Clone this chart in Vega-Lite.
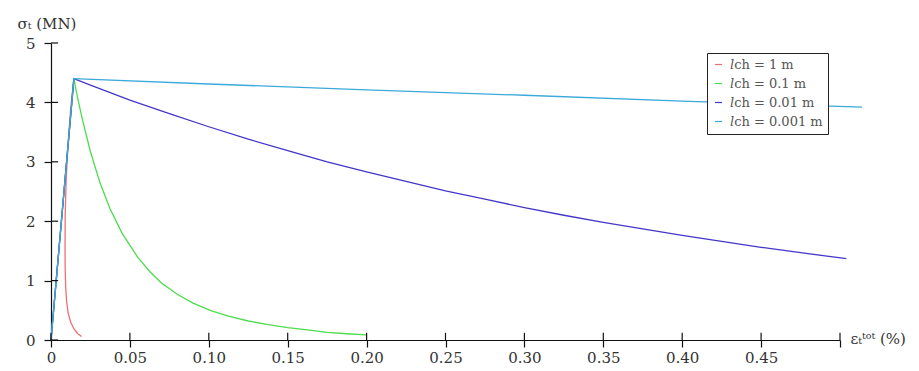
{
  "$schema": "https://vega.github.io/schema/vega-lite/v6.json",
  "autosize": "none",
  "width": 789,
  "height": 297,
  "padding": {"left": 51, "top": 43, "right": 79, "bottom": 31},
  "background": "white",
  "config": {
    "view": {"stroke": null},
    "font": "DejaVu Serif",
    "axis": {
      "grid": false,
      "domainColor": "#111",
      "domainWidth": 1.2,
      "tickColor": "#111",
      "tickWidth": 1.2,
      "tickSize": 7,
      "labelFont": "DejaVu Serif",
      "labelFontSize": 15,
      "labelColor": "#333",
      "titleFont": "DejaVu Serif",
      "titleFontSize": 15,
      "titleFontWeight": "normal",
      "titleColor": "#333"
    }
  },
  "datasets": {
    "curves": [
      {"s": "𝑙ch = 1 m", "k": 0, "e": 0, "sig": 0},
      {"s": "𝑙ch = 1 m", "k": 1, "e": 0.0145, "sig": 4.4},
      {"s": "𝑙ch = 1 m", "k": 2, "e": 0.0125, "sig": 3.9},
      {"s": "𝑙ch = 1 m", "k": 3, "e": 0.0108, "sig": 3.3},
      {"s": "𝑙ch = 1 m", "k": 4, "e": 0.0096, "sig": 2.7},
      {"s": "𝑙ch = 1 m", "k": 5, "e": 0.009, "sig": 2.1},
      {"s": "𝑙ch = 1 m", "k": 6, "e": 0.0089, "sig": 1.5},
      {"s": "𝑙ch = 1 m", "k": 7, "e": 0.009, "sig": 1.2},
      {"s": "𝑙ch = 1 m", "k": 8, "e": 0.0093, "sig": 0.9},
      {"s": "𝑙ch = 1 m", "k": 9, "e": 0.0099, "sig": 0.65},
      {"s": "𝑙ch = 1 m", "k": 10, "e": 0.0109, "sig": 0.45},
      {"s": "𝑙ch = 1 m", "k": 11, "e": 0.0125, "sig": 0.3},
      {"s": "𝑙ch = 1 m", "k": 12, "e": 0.0145, "sig": 0.19},
      {"s": "𝑙ch = 1 m", "k": 13, "e": 0.0168, "sig": 0.11},
      {"s": "𝑙ch = 1 m", "k": 14, "e": 0.0194, "sig": 0.06},
      {"s": "𝑙ch = 0.1 m", "k": 0, "e": 0, "sig": 0},
      {"s": "𝑙ch = 0.1 m", "k": 1, "e": 0.0145, "sig": 4.4},
      {"s": "𝑙ch = 0.1 m", "k": 2, "e": 0.017, "sig": 4.06},
      {"s": "𝑙ch = 0.1 m", "k": 3, "e": 0.02, "sig": 3.7},
      {"s": "𝑙ch = 0.1 m", "k": 4, "e": 0.025, "sig": 3.17},
      {"s": "𝑙ch = 0.1 m", "k": 5, "e": 0.031, "sig": 2.65},
      {"s": "𝑙ch = 0.1 m", "k": 6, "e": 0.0374, "sig": 2.21},
      {"s": "𝑙ch = 0.1 m", "k": 7, "e": 0.045, "sig": 1.8},
      {"s": "𝑙ch = 0.1 m", "k": 8, "e": 0.055, "sig": 1.39},
      {"s": "𝑙ch = 0.1 m", "k": 9, "e": 0.0627, "sig": 1.15},
      {"s": "𝑙ch = 0.1 m", "k": 10, "e": 0.07, "sig": 0.96},
      {"s": "𝑙ch = 0.1 m", "k": 11, "e": 0.08, "sig": 0.77},
      {"s": "𝑙ch = 0.1 m", "k": 12, "e": 0.09, "sig": 0.62},
      {"s": "𝑙ch = 0.1 m", "k": 13, "e": 0.1008, "sig": 0.5},
      {"s": "𝑙ch = 0.1 m", "k": 14, "e": 0.1125, "sig": 0.4},
      {"s": "𝑙ch = 0.1 m", "k": 15, "e": 0.125, "sig": 0.32},
      {"s": "𝑙ch = 0.1 m", "k": 16, "e": 0.1375, "sig": 0.26},
      {"s": "𝑙ch = 0.1 m", "k": 17, "e": 0.15, "sig": 0.21},
      {"s": "𝑙ch = 0.1 m", "k": 18, "e": 0.1625, "sig": 0.17},
      {"s": "𝑙ch = 0.1 m", "k": 19, "e": 0.175, "sig": 0.13},
      {"s": "𝑙ch = 0.1 m", "k": 20, "e": 0.1875, "sig": 0.105},
      {"s": "𝑙ch = 0.1 m", "k": 21, "e": 0.2, "sig": 0.085},
      {"s": "𝑙ch = 0.01 m", "k": 0, "e": 0, "sig": 0},
      {"s": "𝑙ch = 0.01 m", "k": 1, "e": 0.0145, "sig": 4.4},
      {"s": "𝑙ch = 0.01 m", "k": 2, "e": 0.025, "sig": 4.29},
      {"s": "𝑙ch = 0.01 m", "k": 3, "e": 0.05, "sig": 4.04},
      {"s": "𝑙ch = 0.01 m", "k": 4, "e": 0.075, "sig": 3.81},
      {"s": "𝑙ch = 0.01 m", "k": 5, "e": 0.1, "sig": 3.59},
      {"s": "𝑙ch = 0.01 m", "k": 6, "e": 0.125, "sig": 3.38},
      {"s": "𝑙ch = 0.01 m", "k": 7, "e": 0.15, "sig": 3.19},
      {"s": "𝑙ch = 0.01 m", "k": 8, "e": 0.175, "sig": 3.0},
      {"s": "𝑙ch = 0.01 m", "k": 9, "e": 0.2, "sig": 2.83},
      {"s": "𝑙ch = 0.01 m", "k": 10, "e": 0.225, "sig": 2.67},
      {"s": "𝑙ch = 0.01 m", "k": 11, "e": 0.25, "sig": 2.51},
      {"s": "𝑙ch = 0.01 m", "k": 12, "e": 0.275, "sig": 2.37},
      {"s": "𝑙ch = 0.01 m", "k": 13, "e": 0.3, "sig": 2.23},
      {"s": "𝑙ch = 0.01 m", "k": 14, "e": 0.325, "sig": 2.1},
      {"s": "𝑙ch = 0.01 m", "k": 15, "e": 0.35, "sig": 1.98},
      {"s": "𝑙ch = 0.01 m", "k": 16, "e": 0.375, "sig": 1.87},
      {"s": "𝑙ch = 0.01 m", "k": 17, "e": 0.4, "sig": 1.76},
      {"s": "𝑙ch = 0.01 m", "k": 18, "e": 0.425, "sig": 1.66},
      {"s": "𝑙ch = 0.01 m", "k": 19, "e": 0.45, "sig": 1.56},
      {"s": "𝑙ch = 0.01 m", "k": 20, "e": 0.475, "sig": 1.47},
      {"s": "𝑙ch = 0.01 m", "k": 21, "e": 0.504, "sig": 1.37},
      {"s": "𝑙ch = 0.001 m", "k": 0, "e": 0, "sig": 0},
      {"s": "𝑙ch = 0.001 m", "k": 1, "e": 0.0145, "sig": 4.4},
      {"s": "𝑙ch = 0.001 m", "k": 2, "e": 0.1, "sig": 4.31},
      {"s": "𝑙ch = 0.001 m", "k": 3, "e": 0.2, "sig": 4.21},
      {"s": "𝑙ch = 0.001 m", "k": 4, "e": 0.3, "sig": 4.12},
      {"s": "𝑙ch = 0.001 m", "k": 5, "e": 0.4, "sig": 4.02},
      {"s": "𝑙ch = 0.001 m", "k": 6, "e": 0.514, "sig": 3.92}
    ],
    "xticks": [{"t": 0}, {"t": 0.05}, {"t": 0.1}, {"t": 0.15}, {"t": 0.2}, {"t": 0.25}, {"t": 0.3}, {"t": 0.35}, {"t": 0.4}, {"t": 0.45}, {"t": 0.5}],
    "yticks": [{"t": 0}, {"t": 1}, {"t": 2}, {"t": 3}, {"t": 4}, {"t": 5}]
  },
  "layer": [
    {
      "data": {"name": "curves"},
      "mark": {"type": "line", "strokeWidth": 1.3, "clip": false},
      "encoding": {
        "x": {
          "field": "e",
          "type": "quantitative",
          "scale": {"domain": [0, 0.5], "nice": false},
          "axis": {
            "values": [0, 0.05, 0.1, 0.15, 0.2, 0.25, 0.3, 0.35, 0.4, 0.45, 0.5],
            "labelExpr": "datum.value == 0 ? '0' : (datum.value > 0.49 ? '' : format(datum.value, '.2f'))",
            "labelPadding": 3,
            "labelFlush": false,
            "title": "εₜᵗᵒᵗ  (%)",
            "titleAngle": 0,
            "titleAlign": "left",
            "titleBaseline": "middle",
            "titleX": 799,
            "titleY": -2
          }
        },
        "y": {
          "field": "sig",
          "type": "quantitative",
          "scale": {"domain": [0, 5], "nice": false},
          "axis": {
            "values": [0, 1, 2, 3, 4, 5],
            "format": "d",
            "labelPadding": 9,
            "labelFlush": false,
            "title": "σₜ (MN)",
            "titleAngle": 0,
            "titleAlign": "left",
            "titleBaseline": "alphabetic",
            "titleX": -34,
            "titleY": -15
          }
        },
        "order": {"field": "k", "type": "quantitative"},
        "color": {
          "field": "s",
          "type": "nominal",
          "scale": {
            "domain": ["𝑙ch = 1 m", "𝑙ch = 0.1 m", "𝑙ch = 0.01 m", "𝑙ch = 0.001 m"],
            "range": ["#ef6f73", "#4ddc4d", "#4436c8", "#3ba9dc"]
          },
          "legend": {
            "title": null,
            "orient": "none",
            "legendX": 656,
            "legendY": 10,
            "direction": "vertical",
            "padding": 5,
            "strokeColor": "#222",
            "fillColor": "white",
            "symbolType": "stroke",
            "symbolSize": 50,
            "symbolStrokeWidth": 1.2,
            "labelFont": "DejaVu Serif",
            "labelFontSize": 13,
            "labelColor": "#555",
            "labelOffset": 5,
            "rowPadding": 5
          }
        }
      }
    },
    {
      "data": {"name": "xticks"},
      "mark": {"type": "rule", "color": "#111", "strokeWidth": 1.2},
      "encoding": {
        "x": {"field": "t", "type": "quantitative"},
        "y": {"datum": 0},
        "y2": {"datum": 0.12}
      }
    },
    {
      "data": {"name": "yticks"},
      "mark": {"type": "rule", "color": "#111", "strokeWidth": 1.2},
      "encoding": {
        "y": {"field": "t", "type": "quantitative"},
        "x": {"datum": 0},
        "x2": {"datum": 0.0045}
      }
    }
  ]
}
